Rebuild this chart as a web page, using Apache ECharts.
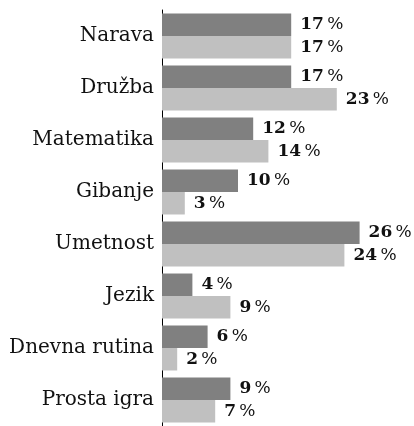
<!DOCTYPE html>
<html>
<head>
<meta charset="utf-8">
<script src="https://cdn.jsdelivr.net/npm/echarts@6/dist/echarts.min.js"></script>
<style>
  html, body { margin: 0; padding: 0; background: #fff; }
  #chart { width: 414px; height: 426px; }
</style>
</head>
<body>
<div id="chart"></div>
<script>
// kategorije od zgoraj navzdol
const categories = ['Narava', 'Družba', 'Matematika', 'Gibanje', 'Umetnost', 'Jezik', 'Dnevna rutina', 'Prosta igra'];
const darkValues = [17, 17, 12, 10, 26, 4, 6, 9];
const lightValues = [17, 23, 14, 3, 24, 9, 2, 7];

const chart = echarts.init(document.getElementById('chart'));

const valueLabel = {
    show: true,
    position: 'right',
    distance: 9,
    formatter: (p) => '{n|' + p.value + '} {p|%}',
    rich: {
        n: { fontFamily: 'DejaVu Serif', fontSize: 17, fontWeight: 'bold', color: '#111' },
        p: { fontFamily: 'DejaVu Serif', fontSize: 17, color: '#111' }
    }
};

const option = {
    animation: false,
    grid: { left: 162, right: 24, top: 10, bottom: -4, containLabel: false },
    xAxis: {
        type: 'value',
        min: 0,
        max: 30,
        show: false
    },
    yAxis: {
        type: 'category',
        data: categories,
        inverse: true,
        axisLine: { show: true, lineStyle: { color: '#000', width: 1 } },
        axisTick: { show: false },
        axisLabel: {
            margin: 8,
            fontFamily: 'DejaVu Serif',
            fontSize: 20,
            color: '#111'
        }
    },
    series: [
        {
            type: 'bar',
            data: darkValues,
            barGap: '0%',
            barCategoryGap: '13.5%',
            itemStyle: { color: '#808080' },
            label: valueLabel
        },
        {
            type: 'bar',
            data: lightValues,
            itemStyle: { color: '#c0c0c0' },
            label: valueLabel
        }
    ]
};

chart.setOption(option);
</script>
</body>
</html>
